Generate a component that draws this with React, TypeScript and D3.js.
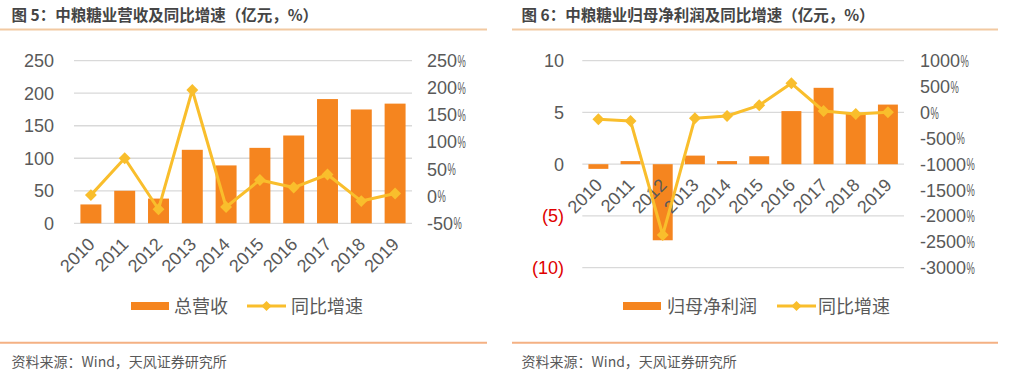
import React, { useEffect, useRef } from "react";
import * as d3 from "d3";

const years = ["2010", "2011", "2012", "2013", "2014", "2015", "2016", "2017", "2018", "2019"];
const revenue = [29, 50, 38, 113, 89, 116, 135, 191, 175, 184];
const revenueGrowth = [2, 70, -24, 196, -20, 30, 16, 40, -9, 5];
const profit = [-0.45, 0.3, -7.35, 0.83, 0.3, 0.77, 5.13, 7.38, 4.93, 5.76];
const profitGrowth = [-132, -165, -2368, -113, -69, 138, 563, 28, -30, 3];

const leftTicksA = [0, 50, 100, 150, 200, 250];
const rightTicksA = [-50, 0, 50, 100, 150, 200, 250];
const leftTicksB = [-10, -5, 0, 5, 10];
const rightTicksB = [-3000, -2500, -2000, -1500, -1000, -500, 0, 500, 1000];

const titleA = "图 5：中粮糖业营收及同比增速（亿元，%）";
const titleB = "图 6：中粮糖业归母净利润及同比增速（亿元，%）";
const legendBarA = "总营收";
const legendBarB = "归母净利润";
const legendLine = "同比增速";
const source = "资料来源：Wind，天风证券研究所";

const BAR = "#F5851F";
const LINE = "#F9BE2C";
const GRID = "#D9D9D9";
const TXT = "#595959";
const LATIN = "'Liberation Sans', Arial, sans-serif";
const CJK = "'Noto Sans CJK SC', 'Noto Sans', sans-serif";

type Panel = {
  ox: number;
  plotX: [number, number];
  plotY: [number, number];
  leftDomain: [number, number];
  rightDomain: [number, number];
  leftTicks: number[];
  rightTicks: number[];
  bars: number[];
  line: number[];
  leftLabelX: number;
  rightLabelX: number;
  title: string;
  legendBar: string;
  legend: { rect: number; text1: number; line: number; text2: number };
  lineSep: [number, number];
};

export default function App() {
  const ref = useRef<SVGSVGElement>(null);

  useEffect(() => {
    const svg = d3.select(ref.current);
    svg.selectAll("*").remove();

    const panels: Panel[] = [
      {
        ox: 0,
        plotX: [74, 412],
        plotY: [223.3, 60.7],
        leftDomain: [0, 250],
        rightDomain: [-50, 250],
        leftTicks: leftTicksA,
        rightTicks: rightTicksA,
        bars: revenue,
        line: revenueGrowth,
        leftLabelX: 54,
        rightLabelX: 427,
        title: titleA,
        legendBar: legendBarA,
        legend: { rect: 131, text1: 174, line: 247, text2: 291 },
        lineSep: [0, 487],
      },
      {
        ox: 505,
        plotX: [582.3, 904],
        plotY: [267.7, 60.7],
        leftDomain: [-10, 10],
        rightDomain: [-3000, 1000],
        leftTicks: leftTicksB,
        rightTicks: rightTicksB,
        bars: profit,
        line: profitGrowth,
        leftLabelX: 564,
        rightLabelX: 920,
        title: titleB,
        legendBar: legendBarB,
        legend: { rect: 623, text1: 667, line: 777, text2: 818 },
        lineSep: [512, 998],
      },
    ];

    panels.forEach((p) => {
      const g = svg.append("g");
      const x = d3.scaleBand<string>().domain(years).range(p.plotX).paddingInner(0.38).paddingOuter(0.19);
      const yL = d3.scaleLinear().domain(p.leftDomain).range(p.plotY);
      const yR = d3.scaleLinear().domain(p.rightDomain).range(p.plotY);

      // title
      g.append("text")
        .attr("x", p.ox + (p.ox === 0 ? 11.5 : 16.5))
        .attr("y", 20.5)
        .attr("font-family", CJK)
        .attr("font-size", 15.5)
        .attr("font-weight", "bold")
        .attr("fill", "#454545")
        .text(p.title);
      g.append("line")
        .attr("x1", p.lineSep[0]).attr("x2", p.lineSep[1])
        .attr("y1", 29.5).attr("y2", 29.5)
        .attr("stroke", "#F2C9A1").attr("stroke-width", 2);

      // grid
      g.selectAll(".grid")
        .data(p.leftTicks)
        .join("line")
        .attr("x1", p.plotX[0]).attr("x2", p.plotX[1])
        .attr("y1", (d) => yL(d)).attr("y2", (d) => yL(d))
        .attr("stroke", GRID).attr("stroke-width", 1.3);

      // left labels
      g.selectAll(".ll")
        .data(p.leftTicks)
        .join("text")
        .attr("x", p.leftLabelX)
        .attr("y", (d) => yL(d))
        .attr("dy", "0.36em")
        .attr("text-anchor", "end")
        .attr("font-family", LATIN)
        .attr("font-size", 18)
        .attr("fill", (d) => (d < 0 ? "#E00000" : TXT))
        .text((d) => (d < 0 ? `(${Math.abs(d)})` : `${d}`));

      // right labels with narrow %
      p.rightTicks.forEach((d) => {
        const t = g.append("text")
          .attr("x", p.rightLabelX)
          .attr("y", yR(d))
          .attr("dy", "0.36em")
          .attr("font-family", LATIN)
          .attr("font-size", 18)
          .attr("fill", TXT)
          .text(d < 0 ? `-${Math.abs(d)}` : `${d}`);
        const w = (t.node() as SVGTextElement).getComputedTextLength();
        g.append("text")
          .attr("transform", `translate(${p.rightLabelX + w + 0.5},${yR(d)}) scale(0.55,1)`)
          .attr("dy", "0.36em")
          .attr("font-family", LATIN)
          .attr("font-size", 17)
          .attr("fill", TXT)
          .text("%");
      });

      // bars
      g.selectAll(".bar")
        .data(p.bars)
        .join("rect")
        .attr("x", (_, i) => x(years[i])!)
        .attr("width", x.bandwidth())
        .attr("y", (d) => Math.min(yL(d), yL(0)))
        .attr("height", (d) => Math.abs(yL(d) - yL(0)))
        .attr("fill", BAR);

      // x labels
      const axisY = yL(0);
      g.selectAll(".xl")
        .data(years)
        .join("text")
        .attr("transform", (d) => `translate(${x(d)! + x.bandwidth() / 2 + 5},${axisY + 22}) rotate(-45)`)
        .attr("text-anchor", "end")
        .attr("font-family", LATIN)
        .attr("font-size", 18)
        .attr("fill", TXT)
        .text((d) => d);

      // line
      const cx = (i: number) => x(years[i])! + x.bandwidth() / 2;
      const lineGen = d3.line<number>().x((_, i) => cx(i)).y((d) => yR(d));
      g.append("path")
        .attr("d", lineGen(p.line)!)
        .attr("fill", "none")
        .attr("stroke", LINE)
        .attr("stroke-width", 3)
        .attr("stroke-linejoin", "round");
      const diamond = d3.symbol().type(d3.symbolDiamond2).size(90);
      g.selectAll(".pt")
        .data(p.line)
        .join("path")
        .attr("d", diamond()!)
        .attr("transform", (d, i) => `translate(${cx(i)},${yR(d)})`)
        .attr("fill", LINE);

      // legend
      const ly = 306;
      g.append("rect")
        .attr("x", p.legend.rect).attr("y", ly - 4)
        .attr("width", 38).attr("height", 8)
        .attr("fill", BAR);
      g.append("text")
        .attr("x", p.legend.text1).attr("y", ly + 6.5)
        .attr("font-family", CJK).attr("font-size", 18)
        .attr("fill", TXT)
        .text(p.legendBar);
      g.append("line")
        .attr("x1", p.legend.line).attr("x2", p.legend.line + 39)
        .attr("y1", ly).attr("y2", ly)
        .attr("stroke", LINE).attr("stroke-width", 3);
      g.append("path")
        .attr("d", d3.symbol().type(d3.symbolDiamond2).size(65)()!)
        .attr("transform", `translate(${p.legend.line + 19.5},${ly})`)
        .attr("fill", LINE);
      g.append("text")
        .attr("x", p.legend.text2).attr("y", ly + 6.5)
        .attr("font-family", CJK).attr("font-size", 18)
        .attr("fill", TXT)
        .text(legendLine);

      // footer
      g.append("line")
        .attr("x1", p.lineSep[0]).attr("x2", p.lineSep[1])
        .attr("y1", 342.7).attr("y2", 342.7)
        .attr("stroke", "#F4B183").attr("stroke-width", 2);
      g.append("text")
        .attr("x", p.ox + (p.ox === 0 ? 11.5 : 16.5))
        .attr("y", 367)
        .attr("font-family", CJK)
        .attr("font-size", 14)
        .attr("fill", TXT)
        .text(source);
    });
  }, []);

  return (
    <svg
      ref={ref}
      width={1010}
      height={376}
      style={{ position: "absolute", left: 0, top: 0, background: "#fff" }}
    />
  );
}
